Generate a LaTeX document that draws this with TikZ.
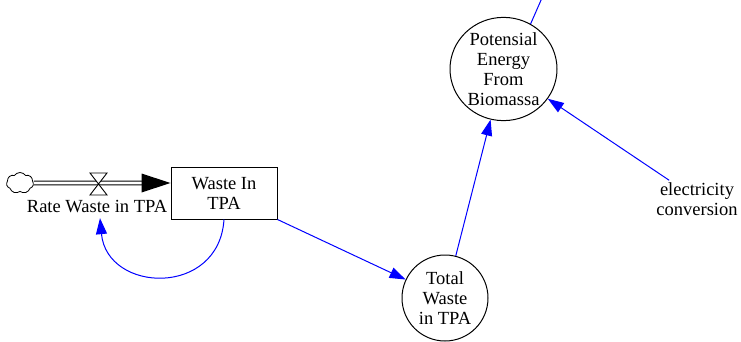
\documentclass[tikz,border=0pt]{standalone}
\usepackage{fontspec}
\setmainfont{Liberation Serif}
\usetikzlibrary{arrows.meta,shapes.geometric,shapes.symbols,calc}
\begin{document}
\begin{tikzpicture}[x=1pt,y=-1pt,
  every node/.style={font=\fontsize{18.5}{20}\selectfont, align=center, inner sep=0pt},
  link/.style={draw=blue, line width=1pt, -{Triangle[length=16pt,width=11pt]}},
  varcircle/.style={draw, circle, line width=1pt, minimum size=86pt},
  varellipse/.style={draw, ellipse, line width=1pt, minimum width=107pt, minimum height=98pt},
  stockbox/.style={draw, line width=1pt, minimum width=106pt, minimum height=52pt},
  pipeline/.style={line width=0.9pt, double, double distance=2.8pt},
  valveshape/.style={draw, line width=0.9pt, fill=white},
  sourcecloud/.style={cloud, draw, cloud puffs=7, cloud puff arc=110, aspect=1.4, minimum width=27pt, minimum height=21pt, line width=0.8pt},
]
\useasboundingbox (0,0) rectangle (741,342);

% stock, flow label and auxiliaries
\node[stockbox] (stock) at (224,193) {Waste In\\TPA};
\node[inner ysep=5pt] (rate) at (97,206.7) {Rate Waste in TPA};
\node[varcircle] (total) at (445,298) {Total\\Waste\\in TPA};
\node[varellipse] (pot) at (503.5,69) {Potensial\\Energy\\From\\Biomassa};
\node[inner sep=2pt] (elec) at (697,199) {electricity\\conversion};
\node[sourcecloud] (src) at (20,183) {};
\coordinate (valve) at (98.5,184);
\coordinate (offtop) at (545.5,-10);

% inflow pipe with valve
\draw[pipeline] (src.east) -- ([xshift=-28pt,yshift=10pt]stock.west);
\fill ([yshift=10pt]stock.west) -- ++(-29,-9.5) -- ++(0,19) -- cycle;
\draw[valveshape] (valve) -- ++(-8.5,-11) -- ++(17,0) -- cycle;
\draw[valveshape] (valve) -- ++(-8.5,11) -- ++(17,0) -- cycle;

% information links
\draw[link] (stock.south) .. controls ($(stock.south)+(-5,78)$) and ($(rate.south)+(10,75)$) .. ([xshift=3pt]rate.south);
\draw[link] (stock.south east) -- (total);
\draw[link] (total) -- (pot);
\draw[link] (elec) -- (pot);
\draw[blue, line width=1pt] (pot.59) -- (offtop);
\end{tikzpicture}
\end{document}
